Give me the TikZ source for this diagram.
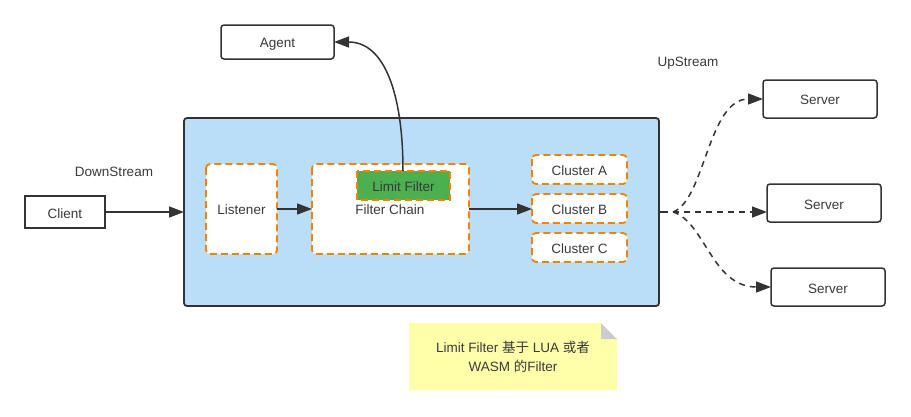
\documentclass[tikz,border=0pt]{standalone}
\usepackage{fontspec}
\setmainfont{Liberation Sans}
\newfontfamily\cjk{Noto Sans CJK SC}
\usetikzlibrary{arrows.meta}
\definecolor{ink}{HTML}{333333}
\definecolor{txt}{HTML}{3A3A3A}
\definecolor{blueb}{HTML}{BBDEF8}
\definecolor{orng}{HTML}{F08300}
\definecolor{grn}{HTML}{4CAF50}
\definecolor{notey}{HTML}{FFFFAA}
\definecolor{fold}{HTML}{CCCCCC}
\begin{document}
\begin{tikzpicture}[x=1pt,y=-1pt,
  font=\fontsize{13.5}{16}\selectfont, text=txt,
  plain/.style={draw=ink, line width=1.5pt, rounded corners=3pt, fill=white},
  dbox/.style={draw=orng, line width=1.8pt, dash pattern=on 7pt off 4pt, rounded corners=4pt, fill=white},
  arr/.style={draw=ink, line width=1.5pt, -{Triangle[length=15pt,width=11pt]}},
  darr/.style={arr, dash pattern=on 6pt off 5pt},
  lbl/.style={inner sep=0pt, text height=9.5pt, text depth=0pt}]
\useasboundingbox (0,0) rectangle (911,416);
% main container
\draw[draw=ink, line width=1.8pt, fill=blueb, rounded corners=3pt] (184,118) rectangle (659,306);
\coordinate (mainW) at (184,212);
\coordinate (mainE) at (659,212);
% boxes
\draw[plain] (221,25) rectangle (334,59); \node[lbl] (agent) at (277.5,43) {Agent};
\coordinate (agentE) at (334,42);
\draw[plain, rounded corners=0pt] (25,196) rectangle (105,228); \node[lbl] (client) at (65,214) {Client};
\coordinate (clientE) at (105,212);
\node[lbl] (down) at (114,172) {DownStream};
\node[lbl] (up) at (688,62) {UpStream};
\draw[dbox] (206,164) rectangle (277,254); \node[lbl] (listener) at (241.5,210) {Listener};
\coordinate (lisE) at (277,209);
\draw[dbox] (312,164) rectangle (469,254); \node[lbl] (chain) at (390,210) {Filter Chain};
\coordinate (chainW) at (312,209);
\coordinate (chainE) at (469,209);
\draw[draw=orng, line width=1.8pt, dash pattern=on 7pt off 4pt, fill=grn] (357,171) rectangle (450,200);
\node[lbl] (limit) at (403.5,187) {Limit Filter};
\coordinate (limitN) at (403,171);
\draw[dbox] (532,155) rectangle (627,184); \node[lbl] (ca) at (579.5,171) {Cluster A};
\draw[dbox] (532,194) rectangle (627,223); \node[lbl] (cb) at (579.5,210) {Cluster B};
\draw[dbox] (532,233) rectangle (627,262); \node[lbl] (cc) at (579.5,249) {Cluster C};
\coordinate (cbW) at (532,209);
% servers
\draw[plain] (763,80) rectangle (877,118); \node[lbl] (s1) at (820,100) {Server};
\draw[plain] (767,184) rectangle (881,222); \node[lbl] (s2) at (824,205) {Server};
\draw[plain] (771,268) rectangle (885,306); \node[lbl] (s3) at (828,289) {Server};
\coordinate (s1W) at (763,99);
\coordinate (s2W) at (767,212);
\coordinate (s3W) at (771,287);
% note
\fill[notey] (409,323) -- (601,323) -- (617,339) -- (617,390) -- (409,390) -- cycle;
\fill[fold] (601,323) -- (617,339) -- (601,339) -- cycle;
\node[align=center, inner sep=0pt, font=\fontsize{13.5}{19}\selectfont] (note) at (513,357) {Limit Filter {\cjk 基于} LUA {\cjk 或者}\\WASM {\cjk 的}Filter};
% connectors
\draw[arr] (clientE) -- (mainW);
\draw[arr] (lisE) -- (chainW);
\draw[arr] (chainE) -- (cbW);
\draw[arr] (limitN) .. controls (403,95) and (385,42) .. (agentE);
\draw[draw=ink, line width=1.5pt] (mainE) -- (668,212);
\coordinate (hub) at (673,212);
\draw[darr] (hub) .. controls (705,200) and (708,99) .. (s1W);
\draw[darr] (hub) -- (s2W);
\draw[darr] (hub) .. controls (705,222) and (712,287) .. (s3W);
\end{tikzpicture}
\end{document}
